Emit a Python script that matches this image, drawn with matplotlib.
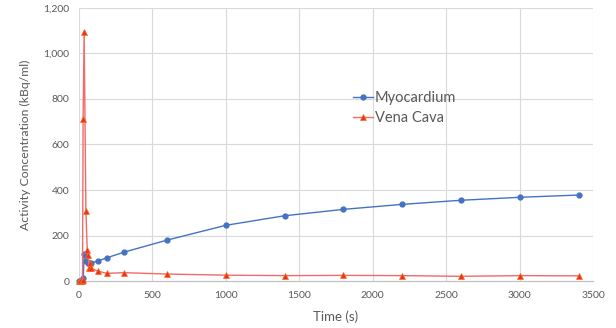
import matplotlib.pyplot as plt
from matplotlib.ticker import FuncFormatter

# data
myo_time = [0, 10, 20, 30, 36, 45, 52, 59, 68, 86, 127, 189, 307, 600,
            1000, 1400, 1800, 2200, 2600, 3000, 3400]
myo_vals = [0, 0, 2, 15, 120, 114, 88, 80, 78, 80, 88, 102, 127, 180,
            245, 287, 315, 337, 355, 368, 378]

vc_time = [0, 10, 20, 25, 29, 36, 48, 57, 64, 70, 79, 86, 127, 189, 307, 600,
           1000, 1400, 1800, 2200, 2600, 3000, 3400]
vc_vals = [0, 0, 0, 5, 710, 1095, 310, 136, 114, 56, 78, 56, 44, 34, 37, 31,
           26, 24, 25, 24, 21, 24, 23]

plt.rcParams['font.family'] = ['Lato', 'DejaVu Sans']

fig = plt.figure(figsize=(6.16, 3.28), dpi=100)
ax = fig.add_axes([0.128, 0.143, 0.835, 0.833])

ax.plot(myo_time, myo_vals, color='#4472C4', lw=1.0, marker='o', ms=3.5,
        label='Myocardium', clip_on=False, zorder=3)
ax.plot(vc_time, vc_vals, color='#F26A6A', lw=1.0, marker='^', ms=4,
        mfc='#F0301C', mec='#F07020', mew=0.5, label='Vena Cava',
        clip_on=False, zorder=3)

ax.set_xlim(0, 3500)
ax.set_ylim(0, 1200)
ax.set_xticks(range(0, 3501, 500))
ax.set_yticks(range(0, 1201, 200))
ax.yaxis.set_major_formatter(FuncFormatter(lambda v, p: f'{int(v):,}'))

ax.grid(True, color='#D9D9D9', lw=0.8)
ax.set_axisbelow(True)
for s in ['top', 'right', 'left']:
    ax.spines[s].set_visible(False)
ax.spines['bottom'].set_color('#BFBFBF')
ax.tick_params(length=0, labelsize=7.5, colors='#595959', pad=7)

ax.set_xlabel('Time (s)', fontsize=9.5, color='#595959', labelpad=8)
ax.set_ylabel('Activity Concentration (kBq/ml)', fontsize=8.8, color='#595959',
              labelpad=9)

ax.legend(loc='upper left', bbox_to_anchor=(0.533, 0.697), frameon=False,
          fontsize=10.5, labelcolor='#595959', handlelength=1.4,
          handletextpad=0.1, borderpad=0, borderaxespad=0, labelspacing=0.45)

fig.savefig('out.png', dpi=100)
